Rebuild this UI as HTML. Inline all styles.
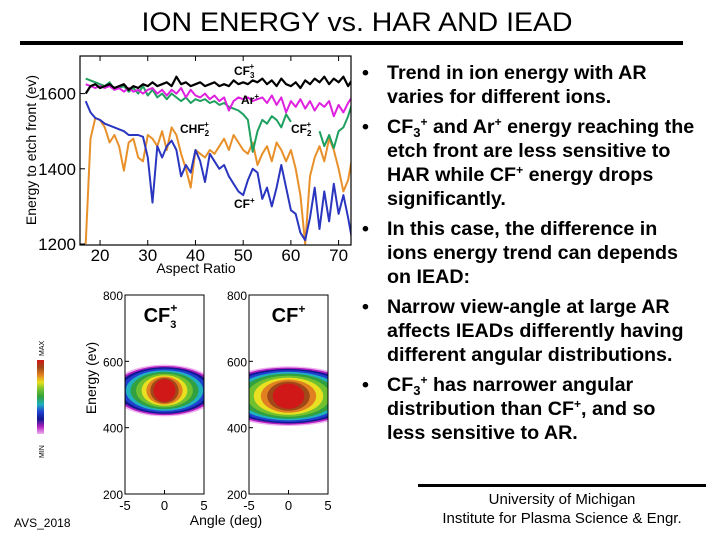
<!DOCTYPE html>
<html><head><meta charset="utf-8">
<style>
html,body{margin:0;padding:0;background:#fff;}
svg{display:block;font-family:"Liberation Sans",Arial,sans-serif;}
.b{font-weight:bold;font-size:19.7px;fill:#000;}
</style></head>
<body>
<svg id="s" width="720" height="540" viewBox="0 0 720 540" xmlns="http://www.w3.org/2000/svg">
<text x="357" y="31" text-anchor="middle" font-size="27" textLength="431" lengthAdjust="spacingAndGlyphs" fill="#000">ION ENERGY vs. HAR AND IEAD</text>
<rect x="20" y="41" width="663" height="4" fill="#000"/>

<g id="chart"></g>
<g id="iead"></g>

<g>
<text class="b" x="362" y="79">•</text>
<text class="b" x="387" y="79">Trend in ion energy with AR</text>
<text class="b" x="387" y="103">varies for different ions.</text>
<text class="b" x="362" y="133">•</text>
<text class="b" x="387" y="133">CF<tspan font-size="13" dy="4">3</tspan><tspan font-size="12" dy="-11">+</tspan><tspan dy="7"> and Ar</tspan><tspan font-size="12" dy="-7">+</tspan><tspan dy="7"> energy reaching the</tspan></text>
<text class="b" x="387" y="157">etch front are less sensitive to</text>
<text class="b" x="387" y="181">HAR while CF<tspan font-size="12" dy="-7">+</tspan><tspan dy="7"> energy drops</tspan></text>
<text class="b" x="387" y="205">significantly.</text>
<text class="b" x="362" y="235">•</text>
<text class="b" x="387" y="235">In this case, the difference in</text>
<text class="b" x="387" y="259">ions energy trend can depends</text>
<text class="b" x="387" y="283">on IEAD:</text>
<text class="b" x="362" y="313">•</text>
<text class="b" x="387" y="313">Narrow view-angle at large AR</text>
<text class="b" x="387" y="337">affects IEADs differently having</text>
<text class="b" x="387" y="361">different angular distributions.</text>
<text class="b" x="362" y="391">•</text>
<text class="b" x="387" y="391">CF<tspan font-size="13" dy="4">3</tspan><tspan font-size="12" dy="-11">+</tspan><tspan dy="7"> has narrower angular</tspan></text>
<text class="b" x="387" y="415">distribution than CF<tspan font-size="12" dy="-7">+</tspan><tspan dy="7">, and so</tspan></text>
<text class="b" x="387" y="439">less sensitive to AR.</text>
</g>

<rect x="418" y="484" width="288" height="3" fill="#000"/>
<text x="562" y="504" text-anchor="middle" font-size="15">University of Michigan</text>
<text x="562" y="523" text-anchor="middle" font-size="15">Institute for Plasma Science &amp; Engr.</text>
<text x="14" y="527" font-size="12">AVS_2018</text>
</svg>
<script>
const ar=[17,18,19,20,21,22,23,24,25,26,27,28,29,30,31,32,33,34,35,36,37,38,39,40,41,42,43,44,45,46,47,48,49,50,51,52,53,54,55,56,57,58,59,60,61,62,63,64,65,66,67,68,69,70,71,72,73];
const cf3=[1600,1620,1625,1615,1620,1625,1615,1620,1625,1610,1620,1615,1625,1620,1630,1620,1625,1630,1620,1645,1625,1630,1620,1625,1630,1620,1625,1630,1620,1625,1620,1635,1625,1630,1625,1635,1630,1640,1625,1635,1620,1640,1625,1620,1630,1615,1635,1625,1640,1630,1645,1625,1640,1630,1645,1620,1640];
const arp=[1625,1620,1615,1620,1615,1620,1610,1615,1605,1615,1605,1610,1600,1610,1615,1600,1610,1595,1610,1600,1615,1590,1610,1595,1590,1600,1585,1595,1580,1590,1555,1580,1590,1585,1590,1580,1585,1590,1575,1595,1570,1590,1550,1580,1565,1585,1560,1580,1555,1575,1565,1580,1540,1570,1550,1575,1595];
const cf2=[1640,1635,1630,1625,1620,1630,1610,1615,1620,1605,1615,1600,1620,1595,1610,1590,1600,1585,1600,1590,1580,1590,1575,1585,1580,1585,1575,1580,1570,1575,1565,1560,1555,1545,1530,1445,1500,1530,1520,1540,1530,1510,1545,1525,null,null,null,null,null,1500,1460,1490,1455,1500,1510,1540,1580];
const chf2=[1200,1480,1535,1530,1510,1470,1490,1460,1395,1470,1480,1430,1420,1490,1480,1460,1500,1450,1510,1490,1440,1400,1350,1450,1440,1430,1450,1440,1460,1480,1450,1490,1470,1450,1440,1470,1410,1440,1460,1420,1470,1450,1420,1450,1400,1330,1200,1380,1430,1460,1420,1480,1450,1400,1340,1370,1440];
const cf=[1580,1550,1535,1530,1520,1515,1510,1505,1500,1490,1490,1490,1485,1430,1310,1460,1430,1460,1475,1450,1380,1410,1390,1450,1420,1365,1440,1420,1400,1410,1380,1360,1340,1330,1370,1400,1390,1320,1350,1300,1350,1410,1350,1290,1280,1230,1210,1270,1350,1240,1340,1260,1360,1280,1330,1270,1200];
const yTicks=[1200,1400,1600];
const xTicks=[20,30,40,50,60,70];
const ieadTicksY=[200,400,600,800];
const ieadTicksX=[-5,0,5];
const levelColors=["#f0b0f0","#b020c0","#101890","#2040d0","#20b0c0","#30a040","#70c030","#e8e020","#e08020","#a04818","#d01818"];
// angular half-widths (deg) and energy half-heights (eV) per contour level
const cf3Rx=[6.8,6.4,6.0,5.5,4.9,4.3,3.6,2.9,2.3,1.8,1.4];
const cf3Ry=[78,74,70,66,61,56,51,46,42,38,34];
const cfRx=[9.5,9.0,8.4,7.8,7.0,6.2,5.3,4.4,3.5,2.7,2.0];
const cfRy=[90,86,82,78,73,68,62,56,50,44,38];
const NS="http://www.w3.org/2000/svg";
function mk(tag,attrs,parent){const e=document.createElementNS(NS,tag);for(const k in attrs)e.setAttribute(k,attrs[k]);parent.appendChild(e);return e;}
const L=80,R=351,T=56,B=245;
const x0=15.8,x1=72.6,y0=1200,y1=1700;
const X=v=>L+(v-x0)/(x1-x0)*(R-L);
const Y=v=>B-1+(v-y0)/(y1-y0)*(T-B+1);
const g=document.getElementById('chart');
const cp=mk('clipPath',{id:'cc'},g);mk('rect',{x:L,y:T,width:R-L,height:B-T},cp);
function series(arr,color,name,w){
  let d='',pen=false;
  arr.forEach((v,i)=>{if(v===null){pen=false;return;}d+=(pen?'L':'M')+X(ar[i]).toFixed(1)+' '+Y(v).toFixed(1);pen=true;});
  const p=mk('path',{d:d,fill:'none',stroke:color,'stroke-width':w,'clip-path':'url(#cc)','stroke-linejoin':'round'},g);
  
  
}
series(chf2,'#e8902a','series-chf2',2);
series(cf,'#2a36c0','series-cf',2);
series(cf2,'#20a060','series-cf2',2);
series(arp,'#e020e0','series-ar',2);
series(cf3,'#000','series-cf3',2.2);
const fr=mk('rect',{x:L,y:T,width:R-L,height:B-T,fill:'none',stroke:'#000','stroke-width':1.2},g);


yTicks.forEach(v=>{
  mk('line',{x1:L,x2:L+5,y1:Y(v),y2:Y(v),stroke:'#000'},g);
  const t=mk('text',{x:L-4,y:Y(v)+6,'text-anchor':'end','font-size':17},g);t.textContent=v;
  
  
});
xTicks.forEach(v=>{
  mk('line',{x1:X(v),x2:X(v),y1:B,y2:B-5,stroke:'#000'},g);
  mk('line',{x1:X(v),x2:X(v),y1:T,y2:T+5,stroke:'#000'},g);
  const t=mk('text',{x:X(v),y:B+16,'text-anchor':'middle','font-size':17},g);t.textContent=v;
  
  
});
const yt=mk('text',{x:0,y:0,transform:'translate(36,150) rotate(-90)','text-anchor':'middle','font-size':14},g);yt.textContent='Energy to etch front (ev)';


const xt=mk('text',{x:196,y:273,'text-anchor':'middle','font-size':14},g);xt.textContent='Aspect Ratio';


function lbl(x,y,base,sub,name){
  const t=mk('text',{x:x,y:y,'font-size':12,'font-weight':'bold'},g);
  t.innerHTML=base+(sub?'<tspan font-size="8" dy="3">'+sub+'</tspan><tspan font-size="8" dx="-5" dy="-9">+</tspan>':'<tspan font-size="8" dy="-5">+</tspan>');
  
  
}
lbl(234,75,'CF','3','label-cf3');
lbl(241,104,'Ar','','label-ar');
lbl(180,133,'CHF','2','label-chf2');
lbl(291,133,'CF','2','label-cf2');
lbl(234,208,'CF','','label-cf');
const ig=document.getElementById('iead');
const eY=v=>494+(v-200)*(295-494)/600;
function panel(px,sub,rxs,rys,ce,name){
  const ax=a=>px+(a+5)/10*79;
  const pg=mk('g',{},ig);
  
  
  const c=mk('clipPath',{id:'c'+name},pg);mk('rect',{x:px,y:295,width:79,height:199},c);
  rxs.forEach((r,i)=>{
    const e=mk('ellipse',{cx:ax(0),cy:eY(ce),rx:r*7.9,ry:rys[i]*0.332,fill:levelColors[i],'clip-path':'url(#c'+name+')'},pg);
    
    
  });
  mk('rect',{x:px,y:295,width:79,height:199,fill:'none',stroke:'#000','stroke-width':1},pg);
  ieadTicksY.forEach(v=>{
    mk('line',{x1:px,x2:px+4,y1:eY(v),y2:eY(v),stroke:'#000'},pg);
    const t=mk('text',{x:px-2,y:eY(v)+5,'text-anchor':'end','font-size':12},pg);t.textContent=v;
    
    
  });
  ieadTicksX.forEach(v=>{
    mk('line',{x1:ax(v),x2:ax(v),y1:494,y2:490,stroke:'#000'},pg);
    const t=mk('text',{x:ax(v),y:510,'text-anchor':'middle','font-size':13},pg);t.textContent=v;
    
    
  });
  const tt=mk('text',{x:ax(0)-(sub?4:0),y:322,'text-anchor':'middle','font-size':20,'font-weight':'bold'},pg);
  tt.innerHTML='CF'+(sub?'<tspan font-size="11" dy="6">'+sub+'</tspan><tspan font-size="12" dx="-6" dy="-16">+</tspan>':'<tspan font-size="12" dy="-9">+</tspan>');
  
  
}
panel(125,'3',cf3Rx,cf3Ry,512,'iead-cf3');
panel(249,'',cfRx,cfRy,495,'iead-cf');
const yl=mk('text',{x:0,y:0,transform:'translate(96,378) rotate(-90)','text-anchor':'middle','font-size':14},ig);yl.textContent='Energy (ev)';


const xl=mk('text',{x:226,y:525,'text-anchor':'middle','font-size':14},ig);xl.textContent='Angle (deg)';


const defs=mk('defs',{},ig);
const lg=mk('linearGradient',{id:'cb',x1:0,y1:0,x2:0,y2:1},defs);
const cbCols=levelColors.slice().reverse();
cbCols.forEach((c,i)=>mk('stop',{offset:(i/(cbCols.length-1)),'stop-color':c},lg));
const cbr=mk('rect',{x:37,y:360,width:7,height:74,fill:'url(#cb)'},ig);


const mx=mk('text',{x:0,y:0,transform:'translate(44,356) rotate(-90)','font-size':7},ig);mx.textContent='MAX';


const mn=mk('text',{x:0,y:0,transform:'translate(44,458) rotate(-90)','font-size':7},ig);mn.textContent='MIN';


</script>
</body></html>
